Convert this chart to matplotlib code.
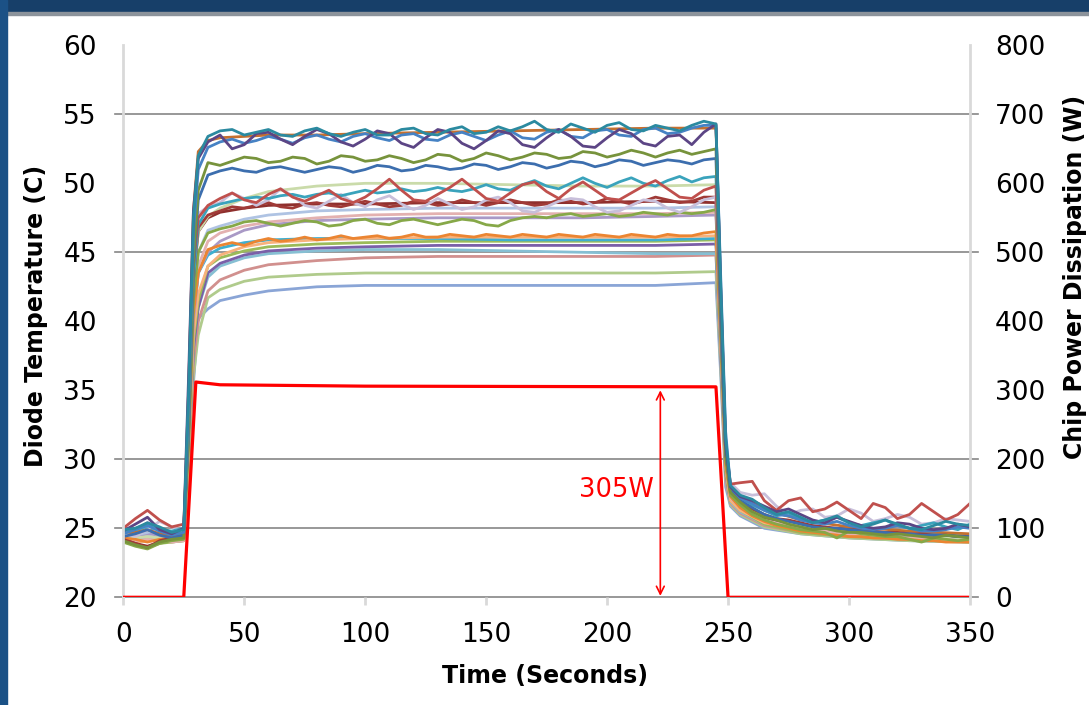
import matplotlib
matplotlib.use("Agg")
import matplotlib.pyplot as plt
from matplotlib.patches import Rectangle

# sample times (s)
T_FINE = [0, 5, 10, 15, 20, 25, 27, 29, 31] + list(range(35, 250, 5)) + [247, 249, 251] + list(range(255, 351, 5))
T_COARSE = [0, 5, 10, 15, 20, 25, 27, 29, 31, 35, 40, 50, 60, 80, 100, 130, 160, 190, 220, 245,
            247, 249, 251, 255, 265, 280, 300, 325, 350]

# wavy diode traces on T_FINE (pre, rise, plateau 35..245, fall, post 255..350)
purple_top = ([24.8, 25.3, 25.8, 24.9, 24.6, 25.0], [36.0, 48.0, 51.8],
              [53.0, 53.5, 52.5, 52.8, 53.6, 53.7, 53.2, 52.8, 53.4, 53.9,
               53.6, 53.0, 52.7, 53.2, 53.8, 53.6, 52.9, 52.6, 53.3, 53.9,
               53.7, 52.9, 52.5, 53.1, 53.8, 53.6, 52.8, 52.6, 53.3, 53.9,
               53.4, 52.7, 52.6, 53.3, 53.9, 53.6, 52.9, 52.7, 53.4, 53.5,
               52.8, 53.7, 54.3], [42.0, 31.0, 28.0],
              [27.3, 27.0, 26.6, 26.2, 26.4, 26.0, 25.6, 25.4, 25.8, 25.5,
               25.2, 25.0, 25.1, 25.4, 25.3, 25.0, 24.9, 25.0, 25.3, 25.1])
teal_top = ([24.9, 25.0, 25.4, 25.1, 24.7, 24.9], [35.0, 47.5, 52.0],
            [53.4, 53.8, 53.9, 53.5, 53.7, 53.9, 53.5, 53.4, 53.8, 54.0,
             53.6, 53.4, 53.7, 53.9, 53.5, 53.5, 53.9, 54.0, 53.6, 53.5,
             53.9, 54.1, 53.6, 53.7, 54.1, 53.8, 54.1, 54.5, 53.9, 53.7,
             54.3, 54.0, 53.7, 54.2, 54.4, 53.9, 53.8, 54.2, 54.0, 53.8,
             54.2, 54.5, 54.3], [42.5, 31.5, 28.1],
            [27.4, 27.1, 26.5, 26.0, 26.2, 25.8, 25.4, 25.6, 25.9, 25.4,
             25.1, 25.3, 25.6, 25.3, 25.0, 24.9, 25.2, 25.5, 25.3, 25.2])
blue_top = ([24.6, 24.9, 25.2, 24.8, 24.5, 24.7], [34.0, 46.5, 51.0],
            [52.6, 53.0, 53.2, 52.9, 53.1, 53.4, 53.2, 52.9, 53.3, 53.5,
             53.2, 53.0, 53.4, 53.6, 53.3, 53.1, 53.5, 53.6, 53.2, 53.1,
             53.5, 53.7, 53.4, 53.1, 53.5, 53.8, 53.3, 53.2, 53.7, 53.9,
             53.4, 53.3, 53.8, 53.9, 53.5, 53.4, 53.9, 54.0, 53.6, 53.7,
             54.0, 54.2, 54.2], [43.0, 32.0, 28.0],
            [27.2, 26.8, 26.3, 26.0, 25.9, 25.6, 25.4, 25.3, 25.5, 25.2,
             25.0, 24.9, 25.0, 25.2, 25.0, 24.8, 24.8, 24.9, 25.1, 25.0])
green_52 = ([24.1, 23.8, 23.6, 24.0, 24.2, 24.3], [33.0, 44.5, 49.5],
            [51.5, 51.3, 51.6, 51.9, 51.8, 51.5, 51.6, 51.9, 51.8, 51.4,
             51.6, 52.0, 51.9, 51.6, 51.7, 52.0, 51.8, 51.5, 51.7, 52.1,
             52.0, 51.6, 51.8, 52.2, 52.0, 51.7, 51.9, 52.2, 52.1, 51.8,
             51.9, 52.3, 52.2, 51.9, 52.1, 52.4, 52.2, 51.9, 52.2, 52.4,
             52.1, 52.3, 52.5], [41.0, 30.5, 27.6],
            [26.9, 26.2, 25.8, 25.6, 25.3, 25.1, 24.9, 25.0, 24.8, 24.7,
             24.7, 24.6, 24.5, 24.6, 24.5, 24.4, 24.3, 24.5, 24.4, 24.3])
blue_51 = ([24.4, 24.6, 24.9, 24.5, 24.3, 24.5], [32.5, 44.0, 48.8],
           [50.6, 50.9, 51.1, 50.9, 50.8, 51.1, 51.2, 51.0, 50.8, 51.0,
            51.2, 51.1, 50.8, 51.0, 51.3, 51.2, 50.9, 51.0, 51.3, 51.2,
            51.0, 51.1, 51.4, 51.3, 51.0, 51.2, 51.5, 51.4, 51.1, 51.3,
            51.6, 51.5, 51.2, 51.4, 51.7, 51.6, 51.3, 51.5, 51.7, 51.6,
            51.4, 51.7, 51.8], [40.5, 30.5, 27.8],
           [27.0, 26.5, 26.0, 25.7, 25.5, 25.3, 25.1, 25.0, 25.0, 24.9,
            24.8, 24.7, 24.7, 24.6, 24.6, 24.5, 24.5, 24.5, 24.4, 24.4])
red_49 = ([25.0, 25.7, 26.3, 25.6, 25.1, 25.3], [33.0, 44.0, 47.5],
          [48.4, 48.9, 49.3, 48.8, 48.6, 49.2, 49.6, 49.0, 48.7, 49.1,
           49.5, 48.9, 48.6, 49.0, 49.6, 50.3, 49.5, 48.8, 48.7, 49.2,
           49.7, 50.3, 49.6, 48.9, 48.7, 49.3, 49.9, 50.1, 49.4, 48.9,
           49.6, 50.1, 49.5, 48.9, 48.8, 49.3, 49.8, 50.2, 49.6, 49.0,
           48.9, 49.5, 49.8], [40.0, 31.0, 28.2],
          [28.3, 28.4, 27.0, 26.3, 27.0, 27.2, 26.2, 26.4, 26.9, 26.3,
           25.7, 26.8, 26.5, 25.7, 26.0, 26.8, 26.2, 25.6, 26.0, 26.8])
teal_50 = ([24.7, 25.0, 25.3, 24.9, 24.8, 25.0], [32.0, 43.0, 47.0],
           [48.2, 48.5, 48.7, 48.9, 49.0, 48.9, 49.1, 49.2, 49.0, 49.2,
            49.3, 49.1, 49.3, 49.5, 49.3, 49.4, 49.6, 49.4, 49.5, 49.7,
            49.5, 49.4, 49.6, 49.9, 49.6, 49.5, 49.9, 50.2, 49.8, 49.6,
            50.0, 50.4, 50.0, 49.7, 50.1, 50.4, 50.0, 49.8, 50.2, 50.5,
            50.1, 50.4, 50.5], [40.0, 30.5, 27.9],
           [27.2, 26.7, 26.3, 25.9, 26.1, 25.7, 25.4, 25.6, 25.8, 25.4,
            25.2, 25.4, 25.6, 25.2, 25.0, 25.2, 25.4, 25.1, 24.9, 25.3])
lavender_48 = ([24.6, 24.4, 24.9, 25.5, 25.1, 24.8], [33.0, 44.0, 47.8],
               [48.3, 48.6, 49.3, 48.9, 48.4, 48.8, 49.6, 49.1, 48.4, 48.2,
                48.7, 49.2, 48.6, 48.3, 48.8, 49.1, 48.5, 48.1, 48.4, 48.9,
                48.5, 48.1, 48.3, 48.8, 49.0, 48.6, 48.0, 47.9, 48.3, 48.7,
                48.9, 48.8, 48.3, 47.9, 48.0, 48.4, 48.8, 48.7, 48.2, 47.9,
                48.3, 48.8, 49.0], [40.0, 31.0, 28.3],
               [27.6, 27.4, 27.5, 26.6, 26.0, 26.3, 26.4, 25.8, 25.9, 26.4,
                26.1, 25.5, 25.7, 26.0, 25.8, 25.3, 25.4, 25.7, 25.6, 25.5])
maroon_48 = ([24.2, 23.9, 23.6, 24.1, 24.3, 24.5], [32.0, 43.0, 46.8],
             [47.7, 48.0, 48.3, 48.2, 48.4, 48.6, 48.3, 48.2, 48.5, 48.6,
              48.4, 48.3, 48.5, 48.7, 48.5, 48.3, 48.4, 48.7, 48.6, 48.4,
              48.5, 48.8, 48.6, 48.4, 48.6, 48.8, 48.6, 48.4, 48.5, 48.8,
              48.7, 48.5, 48.6, 48.9, 48.7, 48.5, 48.7, 49.0, 48.8, 48.6,
              48.7, 49.0, 49.0], [40.0, 30.5, 27.7],
             [27.0, 26.4, 26.0, 25.7, 25.6, 25.4, 25.2, 25.1, 25.0, 24.9,
              24.9, 24.8, 24.7, 24.7, 24.6, 24.6, 24.5, 24.5, 24.4, 24.4])
green_47 = ([24.0, 23.7, 23.5, 23.9, 24.1, 24.2], [31.0, 41.5, 45.0],
            [46.4, 46.7, 46.9, 47.2, 47.3, 47.1, 46.9, 47.1, 47.3, 47.2,
             46.9, 47.0, 47.3, 47.4, 47.1, 47.0, 47.3, 47.4, 47.2, 47.0,
             47.2, 47.4, 47.3, 47.0, 46.9, 47.3, 47.5, 47.6, 47.5, 47.7,
             47.8, 47.6, 47.7, 47.8, 47.6, 47.7, 47.9, 47.8, 47.7, 47.9,
             47.8, 47.9, 48.1], [39.0, 30.0, 27.4],
            [26.7, 26.0, 25.6, 25.3, 25.1, 24.9, 24.8, 24.7, 24.3, 24.8,
             24.6, 24.5, 24.4, 24.4, 24.2, 24.0, 24.3, 24.2, 24.1, 24.2])
orange_46 = ([24.3, 24.2, 24.0, 24.2, 24.3, 24.4], [31.0, 40.5, 43.5],
             [45.2, 45.5, 45.7, 45.5, 45.8, 46.0, 45.8, 45.9, 46.1, 45.9,
              46.0, 46.2, 46.0, 46.1, 46.2, 46.0, 46.1, 46.3, 46.1, 46.1,
              46.3, 46.2, 46.1, 46.3, 46.2, 46.1, 46.3, 46.2, 46.1, 46.3,
              46.2, 46.1, 46.3, 46.2, 46.1, 46.3, 46.2, 46.1, 46.3, 46.2,
              46.2, 46.4, 46.5], [38.5, 29.5, 27.3],
             [26.5, 25.9, 25.5, 25.2, 25.0, 24.8, 24.7, 24.6, 24.5, 24.4,
              24.4, 24.3, 24.3, 24.2, 24.2, 24.1, 24.1, 24.0, 24.0, 24.0])

# smoother diode traces on T_COARSE
orange_top = ([24.5, 24.7, 24.9, 24.6, 24.4, 24.6], [35.0, 48.0, 52.3],
              [53.1, 53.3, 53.4, 53.5, 53.5, 53.6, 53.7, 53.8, 53.9, 54.0, 54.0],
              [42.0, 31.0, 28.0], [27.2, 26.4, 25.6, 25.1, 24.8, 24.6])
palegreen_50 = ([24.2, 24.3, 24.4, 24.3, 24.2, 24.3], [32.0, 43.0, 46.5],
                [47.6, 48.2, 48.9, 49.4, 49.8, 50.0, 50.0, 49.9, 49.8, 49.8, 49.9],
                [40.0, 30.0, 27.5], [26.8, 25.9, 25.2, 24.8, 24.5, 24.3])
maroon2_48 = ([24.2, 23.9, 23.7, 24.0, 24.2, 24.3], [32.0, 43.0, 46.5],
              [47.5, 47.9, 48.2, 48.4, 48.5, 48.5, 48.6, 48.6, 48.6, 48.7, 48.6],
              [40.0, 30.5, 27.6], [26.8, 25.8, 25.2, 24.8, 24.5, 24.4])
periwinkle_48 = ([24.4, 24.5, 24.7, 24.9, 24.6, 24.5], [31.0, 41.0, 45.0],
                 [46.6, 46.9, 47.4, 47.7, 48.0, 48.1, 48.2, 48.2, 48.2, 48.2, 48.3],
                 [39.0, 30.0, 27.5], [26.7, 25.8, 25.2, 24.8, 24.5, 24.3])
pink_48 = ([24.0, 24.1, 24.2, 24.1, 24.0, 24.1], [31.0, 40.5, 44.0],
           [45.8, 46.4, 46.9, 47.2, 47.5, 47.7, 47.8, 47.8, 47.8, 47.8, 47.9],
           [38.5, 29.5, 27.2], [26.5, 25.6, 25.0, 24.6, 24.3, 24.2])
lilac_47 = ([24.3, 24.4, 24.6, 24.5, 24.3, 24.4], [31.0, 40.0, 43.5],
            [45.0, 45.8, 46.6, 47.0, 47.3, 47.4, 47.5, 47.5, 47.5, 47.6, 47.7],
            [38.5, 29.5, 27.3], [26.5, 25.6, 25.0, 24.7, 24.4, 24.3])
peach_46 = ([24.1, 24.0, 24.1, 24.2, 24.1, 24.2], [30.5, 39.0, 42.0],
            [44.0, 44.8, 45.4, 45.7, 45.9, 46.0, 46.1, 46.1, 46.1, 46.1, 46.2],
            [38.0, 29.5, 27.0], [26.3, 25.4, 24.9, 24.5, 24.3, 24.1])
cyan_46 = ([24.6, 24.8, 25.0, 24.8, 24.6, 24.7], [31.0, 40.0, 43.5],
           [44.8, 45.3, 45.7, 45.9, 46.0, 46.0, 46.0, 45.9, 45.9, 45.9, 46.0],
           [38.5, 29.5, 27.3], [26.6, 25.7, 25.1, 24.8, 24.6, 24.5])
green_46 = ([24.0, 23.8, 23.6, 23.9, 24.0, 24.1], [30.0, 38.5, 41.5],
            [44.0, 44.6, 45.1, 45.4, 45.6, 45.7, 45.8, 45.8, 45.8, 45.8, 45.9],
            [38.0, 29.0, 27.0], [26.3, 25.3, 24.7, 24.4, 24.2, 24.0])
purple_45 = ([24.5, 24.9, 25.4, 24.8, 24.5, 24.6], [30.0, 38.0, 41.0],
             [43.5, 44.2, 44.8, 45.1, 45.3, 45.4, 45.5, 45.5, 45.5, 45.5, 45.6],
             [37.5, 29.0, 27.0], [26.4, 25.5, 24.9, 24.6, 24.4, 24.3])
skyblue_45 = ([24.2, 24.3, 24.4, 24.3, 24.2, 24.3], [30.0, 38.0, 41.0],
              [43.2, 44.0, 44.6, 44.9, 45.1, 45.2, 45.2, 45.1, 45.0, 44.9, 44.9],
              [37.0, 29.0, 26.9], [26.2, 25.3, 24.8, 24.5, 24.3, 24.2])
rose_45 = ([24.0, 24.1, 24.2, 24.1, 24.0, 24.1], [29.5, 37.0, 40.0],
           [42.2, 43.0, 43.7, 44.1, 44.4, 44.6, 44.7, 44.7, 44.7, 44.7, 44.8],
           [37.0, 28.5, 26.8], [26.1, 25.2, 24.7, 24.4, 24.2, 24.1])
lightgreen_43 = ([24.1, 24.0, 24.1, 24.2, 24.1, 24.1], [29.0, 36.0, 39.0],
                 [41.7, 42.3, 42.9, 43.2, 43.4, 43.5, 43.5, 43.5, 43.5, 43.5, 43.6],
                 [36.5, 28.5, 26.7], [26.0, 25.1, 24.6, 24.3, 24.1, 24.0])
steel_42 = ([24.3, 24.2, 24.3, 24.4, 24.3, 24.3], [29.0, 35.5, 40.2],
            [40.9, 41.5, 41.9, 42.2, 42.5, 42.6, 42.6, 42.6, 42.6, 42.6, 42.8],
            [36.0, 28.0, 26.6], [25.9, 25.0, 24.6, 24.3, 24.1, 24.0])

# chip power (W)
T_POWER = [0, 25, 30, 40, 100, 245, 250, 350]
POWER = [0, 0, 312, 308, 306, 305, 0, 0]

smooth = [
    (steel_42, '#8AA5D6'), (lightgreen_43, '#B0CB8C'), (rose_45, '#D1908E'),
    (skyblue_45, '#86BFD3'), (purple_45, '#7A5FA8'), (green_46, '#9BBB59'),
    (cyan_46, '#3FAFD0'), (peach_46, '#F8B27C'), (lilac_47, '#A999C6'),
    (pink_48, '#E3B1B0'), (periwinkle_48, '#AFC3E3'), (maroon2_48, '#8E2F2D'),
    (palegreen_50, '#CADBAA'), (orange_top, '#C5702F'),
]
wavy = [
    (orange_46, '#EB8532'), (green_47, '#86A848'), (maroon_48, '#A03A37'),
    (lavender_48, '#C8BFDA'), (teal_50, '#3AA3BC'), (red_49, '#C0504D'),
    (blue_51, '#3C6EAE'), (green_52, '#77933C'), (blue_top, '#4682C4'),
    (purple_top, '#5C4585'), (teal_top, '#2B8AA0'),
]


def joined(parts):
    out = []
    for p in parts:
        out += p
    return out


fig = plt.figure(figsize=(10.89, 7.05), dpi=100)
fig.patch.set_facecolor('white')
ax = fig.add_axes([0.1132, 0.1528, 0.7775, 0.7829])
ax2 = ax.twinx()

for trace, col in smooth:
    ax.plot(T_COARSE, joined(trace), color=col, lw=2.0, solid_joinstyle='round')
for trace, col in wavy:
    ax.plot(T_FINE, joined(trace), color=col, lw=2.0, solid_joinstyle='round')

ax2.plot(T_POWER, POWER, color='#FF0000', lw=2.3)
ax2.annotate('', xy=(222, 2), xytext=(222, 300),
             arrowprops=dict(arrowstyle='<->', color='#FF0000', lw=1.2,
                             mutation_scale=14, shrinkA=0, shrinkB=0))
ax2.text(204, 156, '305W', color='#FF0000', fontsize=18.5, ha='center', va='center')

ax.set_xlim(0, 350)
ax.set_ylim(20, 60)
ax2.set_ylim(0, 800)

for yv in [55, 45, 30, 25, 20]:
    ax.axhline(yv, xmin=-0.01, xmax=1.01, color='#868686', lw=1.2, clip_on=False, zorder=0.5)

ax.set_xticks(range(0, 351, 50))
ax.set_yticks(range(20, 61, 5))
ax2.set_yticks(range(0, 801, 100))
ax.tick_params(axis='x', length=6, width=2, color='#D9D9D9', labelsize=19, pad=12)
ax.tick_params(axis='y', length=0, labelsize=19, pad=19)
ax2.tick_params(axis='y', length=0, labelsize=19, pad=18)

for a in (ax, ax2):
    for s in ('top', 'bottom'):
        a.spines[s].set_visible(False)
ax.spines['right'].set_visible(False)
ax2.spines['left'].set_visible(False)
ax.spines['left'].set_color('#D9D9D9')
ax.spines['left'].set_linewidth(2)
ax2.spines['right'].set_color('#D9D9D9')
ax2.spines['right'].set_linewidth(2)

ax.text(-0.1025, 0.51, 'Diode Temperature (C)', transform=ax.transAxes, rotation=90,
        ha='center', va='center', fontsize=17, fontweight='bold')
ax.text(1.1236, 0.58, 'Chip Power Dissipation (W)', transform=ax.transAxes, rotation=90,
        ha='center', va='center', fontsize=17, fontweight='bold')
ax.text(0.498, -0.1425, 'Time (Seconds)', transform=ax.transAxes,
        ha='center', va='center', fontsize=17, fontweight='bold')

# slide frame
fig.patches.append(Rectangle((0, 1 - 12 / 705), 1, 12 / 705, transform=fig.transFigure,
                             color='#173F69', zorder=-1))
fig.patches.append(Rectangle((0, 1 - 15 / 705), 1, 3 / 705, transform=fig.transFigure,
                             color='#8C939B', zorder=-1))
fig.patches.append(Rectangle((0, 0), 7 / 1089, 1, transform=fig.transFigure,
                             color='#1B5186', zorder=-1))

fig.savefig('out.png', dpi=100)
